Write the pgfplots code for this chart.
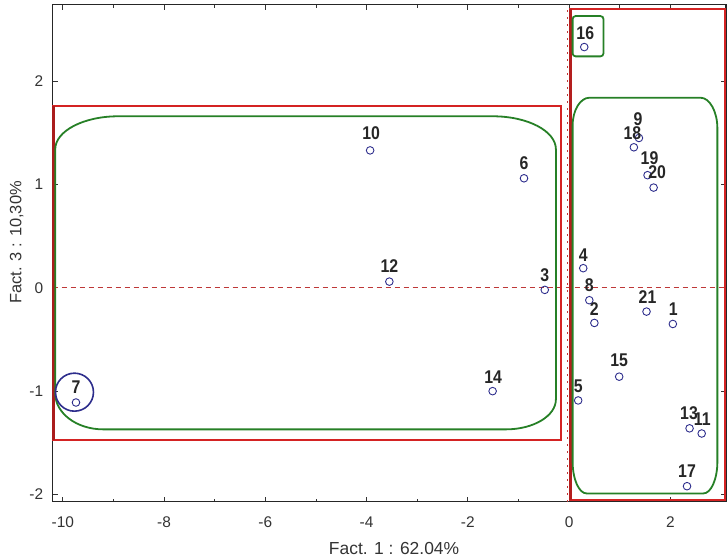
\documentclass[border=0pt]{standalone}
\usepackage{pgfplots}
\pgfplotsset{compat=1.18}
\usepackage{pgfplotstable}
\usepackage{graphicx}
\usepackage{fontspec}
\setmainfont{Liberation Sans}

\definecolor{boxred}{RGB}{212,35,35}
\definecolor{boxgreen}{RGB}{38,128,38}
\definecolor{ptblue}{RGB}{45,45,140}
\definecolor{zeroline}{RGB}{190,55,55}

\pgfplotstableread{
x y lx ly label
2.05 -0.35 2.06 -0.21 1
0.50 -0.34 0.50 -0.21 2
-0.48 -0.02 -0.48 0.12 3
0.28 0.19 0.28 0.32 4
0.18 -1.09 0.18 -0.95 5
-0.89 1.06 -0.89 1.21 6
-9.74 -1.11 -9.74 -0.96 7
0.40 -0.12 0.40 0.03 8
1.38 1.45 1.36 1.63 9
-3.93 1.33 -3.91 1.50 10
2.62 -1.41 2.63 -1.27 11
-3.55 0.06 -3.55 0.21 12
2.38 -1.36 2.37 -1.21 13
-1.51 -1.00 -1.50 -0.86 14
0.99 -0.86 0.99 -0.70 15
0.30 2.33 0.32 2.46 16
2.33 -1.92 2.33 -1.77 17
1.28 1.36 1.25 1.50 18
1.55 1.09 1.59 1.25 19
1.67 0.97 1.74 1.12 20
1.53 -0.23 1.55 -0.09 21
}\pointdata

\begin{document}
\begin{tikzpicture}
\begin{axis}[
  at={(0,0)}, anchor=south west,
  scale only axis, width=673.3bp, height=497bp,
  xmin=-10.2, xmax=3.1, ymin=-2.07, ymax=2.74,
  xtick={-10,-8,...,2}, ytick={-2,-1,...,2},
  minor x tick num=1,
  tick align=inside,
  major tick length=5bp, minor tick length=3bp,
  axis line style={line width=1.1bp, black!85},
  every tick/.style={black!80, line width=0.8bp},
  tick label style={font=\fontsize{15.5}{18}\selectfont, text=black!80},
  /pgf/number format/assume math mode=true,
  xticklabel style={anchor=center, yshift=-20bp},
  yticklabel style={anchor=east, xshift=-6bp},
  xlabel={Fact. 1 : 62.04\%},
  ylabel={Fact. 3 : 10,30\%},
  every axis x label/.style={at={(axis description cs:0.507,0)}, yshift=-46.5bp, anchor=center, font=\fontsize{17.5}{20}\selectfont, text=black!80},
  every axis y label/.style={at={(axis description cs:0,0.5215)}, xshift=-36bp, rotate=90, anchor=center, font=\fontsize{16.5}{20}\selectfont, text=black!80},
  clip=false,
]
% reference lines
\draw[zeroline, line width=0.9bp, dash pattern=on 5bp off 4bp] (axis cs:-10.2,0) -- (axis cs:3.1,0);
\draw[zeroline, line width=0.9bp, dash pattern=on 1.5bp off 5.5bp] (axis cs:-0.03,-2.07) -- (axis cs:-0.03,2.74);

% left group boxes
\draw[boxred, line width=1.8bp] (axis cs:-10.19,1.76) rectangle (axis cs:-0.16,-1.47);
\draw[boxred!80!black, line width=2.6bp] (axis cs:-10.19,1.76) -- (axis cs:-10.19,-1.47);
\draw[boxgreen, line width=1.8bp]
  ([xshift=63bp]axis cs:-10.15,1.66) -- ([xshift=-63bp]axis cs:-0.26,1.66)
  arc[start angle=90, end angle=0, x radius=63bp, y radius=33bp]
  -- ([yshift=30bp]axis cs:-0.26,-1.37)
  arc[start angle=0, end angle=-90, x radius=50bp, y radius=30bp]
  -- ([xshift=48bp]axis cs:-10.15,-1.37)
  arc[start angle=270, end angle=180, x radius=48bp, y radius=36bp]
  -- ([yshift=-33bp]axis cs:-10.15,1.66)
  arc[start angle=180, end angle=90, x radius=63bp, y radius=33bp] -- cycle;

% right group boxes
\draw[boxred, line width=1.8bp] (axis cs:0.02,2.70) rectangle (axis cs:3.08,-2.05);
\draw[boxred!85!black, line width=3bp] (axis cs:0.02,2.70) -- (axis cs:0.02,-2.05);
\draw[boxgreen, line width=1.8bp]
  ([xshift=17bp]axis cs:0.07,1.84) -- ([xshift=-17bp]axis cs:2.93,1.84)
  arc[start angle=90, end angle=0, x radius=17bp, y radius=31bp]
  -- ([yshift=32bp]axis cs:2.93,-1.99)
  arc[start angle=0, end angle=-90, x radius=14bp, y radius=32bp]
  -- ([xshift=14bp]axis cs:0.07,-1.99)
  arc[start angle=270, end angle=180, x radius=14bp, y radius=32bp]
  -- ([yshift=-28bp]axis cs:0.07,1.84)
  arc[start angle=180, end angle=90, x radius=17bp, y radius=28bp] -- cycle;
\draw[boxgreen, line width=1.8bp, rounded corners=3bp] (axis cs:0.07,2.63) rectangle (axis cs:0.68,2.24);

% circle around sample 7
\draw[ptblue, line width=1.6bp] (axis cs:-9.77,-1.01) circle[radius=19bp];

% points
\addplot[only marks, mark=o, mark size=3.8bp, mark options={ptblue, line width=0.9bp}]
  table[x=x, y=y] {\pointdata};
% labels
\addplot[draw=none, mark=none, point meta=explicit symbolic,
  nodes near coords={\scalebox{0.86}[1]{\pgfplotspointmeta}},
  nodes near coords style={anchor=center, inner sep=0pt, font=\fontsize{18.5}{20}\selectfont\bfseries, text=black!85}]
  table[x=lx, y=ly, meta=label] {\pointdata};
\end{axis}
\pgfresetboundingbox
\useasboundingbox (-52.7bp,-56.3bp) rectangle (675.3bp,501.7bp);
\end{tikzpicture}
\end{document}
